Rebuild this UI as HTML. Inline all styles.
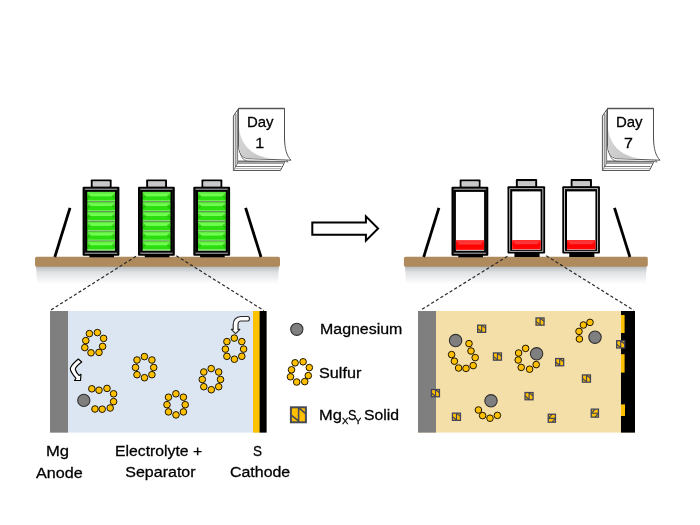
<!DOCTYPE html>
<html><head><meta charset="utf-8"><title>Mg-S battery</title>
<style>
html,body{margin:0;padding:0;background:#fff;}
body{width:700px;height:525px;overflow:hidden;position:relative;font-family:"Liberation Sans",sans-serif;}
svg{position:absolute;left:0;top:0;}
#txt{position:absolute;left:0;top:0;width:700px;height:525px;will-change:transform;}
.t{position:absolute;white-space:nowrap;font-size:16px;line-height:16px;color:#000;transform-origin:0 0;-webkit-text-stroke:0.3px #000;}
</style></head><body>
<svg width="700" height="525" viewBox="0 0 700 525">
<defs>
<linearGradient id="shad" x1="0" y1="0" x2="0" y2="1"><stop offset="0" stop-color="#b4b8bc"/><stop offset="0.35" stop-color="#dfe1e3"/><stop offset="1" stop-color="#ffffff"/></linearGradient>
<linearGradient id="gcell" x1="0" y1="0" x2="0" y2="1"><stop offset="0" stop-color="#7fd06c"/><stop offset="0.06" stop-color="#52d035"/><stop offset="0.2" stop-color="#6cfb4c"/><stop offset="0.42" stop-color="#70ff50"/><stop offset="0.49" stop-color="#2cdd10"/><stop offset="0.84" stop-color="#2cdd10"/><stop offset="0.87" stop-color="#66f04a"/><stop offset="0.9" stop-color="#66f04a"/><stop offset="0.92" stop-color="#8ed07c"/><stop offset="1" stop-color="#86cc74"/></linearGradient>
<linearGradient id="rcell" x1="0" y1="0" x2="0" y2="1"><stop offset="0" stop-color="#ff2a2a"/><stop offset="0.4" stop-color="#ff3a3a"/><stop offset="0.5" stop-color="#ff0000"/><stop offset="1" stop-color="#ff0808"/></linearGradient>
<linearGradient id="pg" x1="0" y1="0" x2="1" y2="1"><stop offset="0" stop-color="#d8d8d8"/><stop offset="1" stop-color="#c4c4c4"/></linearGradient>
<g id="sol"><rect x="1" y="1" width="15" height="15" fill="#FFC000" stroke="#474a57" stroke-width="2"/><path d="M8.7,1 V16 M1,8.6 L8.5,14.5 M9,1.5 L16,7.5" stroke="#474a57" stroke-width="1.6" fill="none"/></g>
<g id="sols"><rect x="0.65" y="0.65" width="8" height="7.2" fill="#FFC000" stroke="#41445a" stroke-width="1.3"/><path d="M4.7,0.6 V8 M0.6,4.1 L4.6,7.3 M4.8,0.9 L8.7,3.9" stroke="#41445a" stroke-width="1.15" fill="none"/></g>
<g id="gc"><rect x="0.3" y="0" width="27.7" height="9.8" fill="url(#gcell)"/><path d="M0.3,1.2 L4,4.4 L0.3,7.7 Z M28,1.2 L24.3,4.4 L28,7.7 Z" fill="#1fb005" opacity="0.6"/></g>
<g id="batt">
 <rect x="8.2" y="-7.3" width="20.8" height="9" fill="#000" rx="0.8"/>
 <rect x="10.4" y="-5" width="16.4" height="4.6" fill="#c8c8c8" stroke="#e8e8e8" stroke-width="0.6"/>
 <rect x="0" y="0" width="36.8" height="69" fill="#000" rx="1"/>
 <rect x="6.8" y="68" width="24.6" height="2.6" fill="#000"/>
 <path d="M2.2,2.5 H34.6 M2.2,66.5 H34.6" stroke="#ececec" stroke-width="0.8" fill="none"/><path d="M2.2,2.5 V66.5 M34.6,2.5 V66.5" stroke="#262626" stroke-width="0.6" fill="none"/>
</g>
<g id="battg"><use href="#batt"/>
 <use href="#gc" x="4.4" y="5.2"/><use href="#gc" x="4.4" y="15"/><use href="#gc" x="4.4" y="24.8"/><use href="#gc" x="4.4" y="34.6"/><use href="#gc" x="4.4" y="44.4"/><use href="#gc" x="4.4" y="54.2"/><rect x="4.7" y="5.2" width="27.7" height="0.9" fill="#62f242"/><rect x="4.7" y="62.8" width="27.7" height="1" fill="#90e080"/>
</g>
<g id="rin">
 <rect x="4.4" y="5.2" width="28.2" height="58.8" fill="#fff"/>
 <rect x="4.4" y="53.4" width="28.2" height="9.8" fill="url(#rcell)"/>
 <path d="M4.4,54.2 L7.6,57 L4.4,59 Z M32.6,54.2 L29.4,57 L32.6,59 Z" fill="#ff0000" opacity="0.8"/>
</g>
<g id="battr"><use href="#batt"/><use href="#rin"/></g>
<g id="battr2">
 <rect x="8.2" y="-7.5" width="20.8" height="9" fill="#000" rx="0.8"/>
 <rect x="10.4" y="-5.2" width="16.4" height="4.7" fill="#c8c8c8" stroke="#e8e8e8" stroke-width="0.6"/>
 <rect x="0" y="-0.4" width="36.8" height="67.4" fill="#000" rx="1"/>
 <rect x="6.8" y="66" width="24.6" height="4.4" fill="#000"/>
 <rect x="2.2" y="2.1" width="32.4" height="62.6" fill="none" stroke="#e4e4e4" stroke-width="0.8"/>
 <rect x="4.6" y="4.8" width="27.8" height="58.4" fill="#fff"/>
 <rect x="4.6" y="53.4" width="27.8" height="9.4" fill="url(#rcell)"/>
 <path d="M4.6,54.2 L7.8,57 L4.6,59 Z M32.4,54.2 L29.2,57 L32.4,59 Z" fill="#ff0000" opacity="0.8"/>
</g>

<g id="cal">
 <!-- stack side -->
 <path d="M238.5,108.5 L233.4,116 L233.4,170.5 L280.5,170.5 L284.5,162.5 L284.5,108.5 Z" fill="#fff" stroke="#444" stroke-width="0.9" stroke-linejoin="round"/>
 <path d="M235.3,113.5 V166.5 L281.5,166.5 M237.6,110 V163.2 L283.5,163.2 M233.4,170.5 L237.6,163.2" stroke="#555" stroke-width="0.8" fill="none"/>
 <path d="M233.6,168.6 L281,168.6" stroke="#999" stroke-width="0.8"/>
 <path d="M236.2,114 V165" stroke="#aaa" stroke-width="1"/>
 <path d="M238,161.6 L284,161.6" stroke="#777" stroke-width="2"/>
 <!-- second page -->
 <path d="M240,150 C240.5,157 243,160.5 248,161 L285,161.5 L288.2,162 C286.5,160.5 286,159.5 285.5,158 Z" fill="#fff" stroke="#555" stroke-width="0.8"/>
 <!-- top page -->
 <path d="M238.5,108.5 L284.5,108.5 L284.5,138 C284.8,149 286.5,155.5 291,160.2 L247.5,158.6 C241.5,157.6 238.5,152.5 238.5,145 Z" fill="#fff" stroke="#444" stroke-width="0.9" stroke-linejoin="round"/>
 <path d="M239,128 C241,144 250,155.5 271,158.8 L247.5,158.2 C242,157.2 239,152.5 239,145 Z" fill="url(#pg)"/>
 <path d="M238.5,108.5 L284.5,108.5" stroke="#555" stroke-width="1.3"/>
</g>
<g id="shelfgrp">
 <path d="M36,266 L279,266 L277.8,284 L37.2,284 Z" fill="url(#shad)"/>
 <rect x="35" y="256.8" width="245" height="9.9" rx="1.8" fill="#AF8A5C"/>
 <path d="M70,207.8 L54.8,257" stroke="#000" stroke-width="2.8" stroke-linecap="butt"/>
 <path d="M245.6,207.8 L261,257" stroke="#000" stroke-width="2.8"/>
</g>
<g id="shelfgrp2">
 <path d="M36,266 L277.8,266 L276.6,284 L37.2,284 Z" fill="url(#shad)"/>
 <rect x="35" y="256.8" width="243.9" height="9.9" rx="1.8" fill="#AF8A5C"/>
 <path d="M70,207.8 L54.8,257" stroke="#000" stroke-width="2.8" stroke-linecap="butt"/>
 <path d="M245.6,207.8 L261,257" stroke="#000" stroke-width="2.8"/>
</g>
</defs>

<use href="#shelfgrp"/>
<use href="#battg" x="82.6" y="186.7"/>
<use href="#battg" x="138.0" y="186.7"/>
<use href="#battg" x="193.3" y="186.7"/>
<use href="#cal"/>
<g transform="translate(368.9,0)"><use href="#shelfgrp2"/></g><g transform="translate(369,0)">
<use href="#battr" x="82.5" y="186.7"/>
<g transform="translate(138.5,186.6) scale(1.022,1)"><use href="#battr2"/></g>
<g transform="translate(193.3,186.6) scale(1.022,1)"><use href="#battr2"/></g>
<use href="#cal"/></g>
<path d="M312.3,222.4 H365.9 V216.4 L378.1,228.5 L365.9,240.6 V234.8 H312.3 Z" fill="#fff" stroke="#000" stroke-width="2" stroke-linejoin="miter"/>
<path d="M136,256.3 L50.4,310.3" stroke="#2a2a2a" stroke-width="1.2" stroke-dasharray="3.2,2.2" fill="none"/><path d="M176.3,255.8 L264,310.6" stroke="#2a2a2a" stroke-width="1.2" stroke-dasharray="3.2,2.2" fill="none"/>
<path d="M507.4,256.3 L420.4,310.3" stroke="#2a2a2a" stroke-width="1.2" stroke-dasharray="3.2,2.2" fill="none"/><path d="M546.3,255.8 L633.6,310.2" stroke="#2a2a2a" stroke-width="1.2" stroke-dasharray="3.2,2.2" fill="none"/>
<rect x="50" y="311" width="216.6" height="121.6" fill="#DCE6F2"/>
<rect x="50" y="311" width="18" height="121.6" fill="#7F7F7F"/>
<rect x="253" y="311" width="6.8" height="121.6" fill="#FFC000"/>
<rect x="259.6" y="311" width="7" height="121.6" fill="#000"/>
<circle cx="89.4" cy="333.6" r="3.3" fill="#FFC000" stroke="#1c1500" stroke-width="1"/>
<circle cx="97.4" cy="332.6" r="3.3" fill="#FFC000" stroke="#1c1500" stroke-width="1"/>
<circle cx="103.6" cy="338.4" r="3.3" fill="#FFC000" stroke="#1c1500" stroke-width="1"/>
<circle cx="102.6" cy="346.4" r="3.3" fill="#FFC000" stroke="#1c1500" stroke-width="1"/>
<circle cx="99.0" cy="352.4" r="3.3" fill="#FFC000" stroke="#1c1500" stroke-width="1"/>
<circle cx="91.0" cy="352.8" r="3.3" fill="#FFC000" stroke="#1c1500" stroke-width="1"/>
<circle cx="84.8" cy="347.6" r="3.3" fill="#FFC000" stroke="#1c1500" stroke-width="1"/>
<circle cx="85.8" cy="340.6" r="3.3" fill="#FFC000" stroke="#1c1500" stroke-width="1"/>
<circle cx="144.4" cy="356.6" r="3.3" fill="#FFC000" stroke="#1c1500" stroke-width="1"/><circle cx="151.9" cy="360.0" r="3.3" fill="#FFC000" stroke="#1c1500" stroke-width="1"/><circle cx="153.7" cy="367.5" r="3.3" fill="#FFC000" stroke="#1c1500" stroke-width="1"/><circle cx="151.9" cy="374.7" r="3.3" fill="#FFC000" stroke="#1c1500" stroke-width="1"/><circle cx="144.5" cy="377.7" r="3.3" fill="#FFC000" stroke="#1c1500" stroke-width="1"/><circle cx="137.0" cy="374.7" r="3.3" fill="#FFC000" stroke="#1c1500" stroke-width="1"/><circle cx="135.5" cy="367.5" r="3.3" fill="#FFC000" stroke="#1c1500" stroke-width="1"/><circle cx="137.0" cy="360.0" r="3.3" fill="#FFC000" stroke="#1c1500" stroke-width="1"/>
<circle cx="234.3" cy="338.1" r="3.3" fill="#FFC000" stroke="#1c1500" stroke-width="1"/><circle cx="241.8" cy="341.6" r="3.3" fill="#FFC000" stroke="#1c1500" stroke-width="1"/><circle cx="243.6" cy="349.1" r="3.3" fill="#FFC000" stroke="#1c1500" stroke-width="1"/><circle cx="241.8" cy="356.3" r="3.3" fill="#FFC000" stroke="#1c1500" stroke-width="1"/><circle cx="234.4" cy="359.2" r="3.3" fill="#FFC000" stroke="#1c1500" stroke-width="1"/><circle cx="226.9" cy="356.3" r="3.3" fill="#FFC000" stroke="#1c1500" stroke-width="1"/><circle cx="225.4" cy="349.1" r="3.3" fill="#FFC000" stroke="#1c1500" stroke-width="1"/><circle cx="226.9" cy="341.6" r="3.3" fill="#FFC000" stroke="#1c1500" stroke-width="1"/>
<circle cx="211.2" cy="368.6" r="3.3" fill="#FFC000" stroke="#1c1500" stroke-width="1"/><circle cx="218.7" cy="372.0" r="3.3" fill="#FFC000" stroke="#1c1500" stroke-width="1"/><circle cx="220.5" cy="379.5" r="3.3" fill="#FFC000" stroke="#1c1500" stroke-width="1"/><circle cx="218.7" cy="386.7" r="3.3" fill="#FFC000" stroke="#1c1500" stroke-width="1"/><circle cx="211.3" cy="389.7" r="3.3" fill="#FFC000" stroke="#1c1500" stroke-width="1"/><circle cx="203.8" cy="386.7" r="3.3" fill="#FFC000" stroke="#1c1500" stroke-width="1"/><circle cx="202.3" cy="379.5" r="3.3" fill="#FFC000" stroke="#1c1500" stroke-width="1"/><circle cx="203.8" cy="372.0" r="3.3" fill="#FFC000" stroke="#1c1500" stroke-width="1"/>
<circle cx="175.9" cy="393.8" r="3.3" fill="#FFC000" stroke="#1c1500" stroke-width="1"/><circle cx="183.4" cy="397.2" r="3.3" fill="#FFC000" stroke="#1c1500" stroke-width="1"/><circle cx="185.2" cy="404.7" r="3.3" fill="#FFC000" stroke="#1c1500" stroke-width="1"/><circle cx="183.4" cy="411.9" r="3.3" fill="#FFC000" stroke="#1c1500" stroke-width="1"/><circle cx="176.0" cy="414.9" r="3.3" fill="#FFC000" stroke="#1c1500" stroke-width="1"/><circle cx="168.5" cy="411.9" r="3.3" fill="#FFC000" stroke="#1c1500" stroke-width="1"/><circle cx="167.0" cy="404.7" r="3.3" fill="#FFC000" stroke="#1c1500" stroke-width="1"/><circle cx="168.5" cy="397.2" r="3.3" fill="#FFC000" stroke="#1c1500" stroke-width="1"/>
<circle cx="91.8" cy="388.8" r="3.3" fill="#FFC000" stroke="#1c1500" stroke-width="1"/>
<circle cx="99.0" cy="390.2" r="3.3" fill="#FFC000" stroke="#1c1500" stroke-width="1"/>
<circle cx="107.0" cy="388.4" r="3.3" fill="#FFC000" stroke="#1c1500" stroke-width="1"/>
<circle cx="113.6" cy="393.8" r="3.3" fill="#FFC000" stroke="#1c1500" stroke-width="1"/>
<circle cx="113.6" cy="401.6" r="3.3" fill="#FFC000" stroke="#1c1500" stroke-width="1"/>
<circle cx="110.2" cy="408.0" r="3.3" fill="#FFC000" stroke="#1c1500" stroke-width="1"/>
<circle cx="102.2" cy="409.2" r="3.3" fill="#FFC000" stroke="#1c1500" stroke-width="1"/>
<circle cx="95.0" cy="409.0" r="3.3" fill="#FFC000" stroke="#1c1500" stroke-width="1"/>
<circle cx="83.8" cy="400.4" r="6.1" fill="#7F7F7F" stroke="#303030" stroke-width="1.1"/>
<path d="M78.3,359 L81.7,362 Q75,367 75.3,369.5 Q76,372 79,375.5 L81,374.3 L80.5,380.5 L74.5,380.5 L76,378.3 Q70.3,372 70.3,368.5 Q71,365 78.3,359 Z" fill="#fff" stroke="#000" stroke-width="1.15" stroke-linejoin="round"/>
<path d="M247.9,316.5 L241,316.5 Q233.2,317 233.2,325 L233.2,329.4 L231.3,329.4 L235.6,333.7 L239.9,329.4 L238,329.4 L238,325 Q238,321 241,321 L247.9,321 Q249.5,321 249.5,318.8 Q249.5,316.5 247.9,316.5 Z" fill="#fff" stroke="#2a2a2a" stroke-width="1.15" stroke-linejoin="round"/>
<circle cx="296.8" cy="329.3" r="6.1" fill="#7F7F7F" stroke="#303030" stroke-width="1.1"/>
<circle cx="295.1" cy="362.8" r="3.3" fill="#FFC000" stroke="#1c1500" stroke-width="1"/>
<circle cx="303.1" cy="361.8" r="3.3" fill="#FFC000" stroke="#1c1500" stroke-width="1"/>
<circle cx="309.3" cy="367.6" r="3.3" fill="#FFC000" stroke="#1c1500" stroke-width="1"/>
<circle cx="308.3" cy="375.6" r="3.3" fill="#FFC000" stroke="#1c1500" stroke-width="1"/>
<circle cx="304.7" cy="381.6" r="3.3" fill="#FFC000" stroke="#1c1500" stroke-width="1"/>
<circle cx="296.7" cy="382.0" r="3.3" fill="#FFC000" stroke="#1c1500" stroke-width="1"/>
<circle cx="290.5" cy="376.8" r="3.3" fill="#FFC000" stroke="#1c1500" stroke-width="1"/>
<circle cx="291.5" cy="369.8" r="3.3" fill="#FFC000" stroke="#1c1500" stroke-width="1"/>
<g transform="translate(289.9,406.3)"><use href="#sol"/></g>
<rect x="418" y="311" width="217" height="121.6" fill="#F5DFA8"/>
<rect x="418" y="311" width="18" height="121.6" fill="#7F7F7F"/>
<rect x="621" y="311" width="14" height="121.6" fill="#000"/>
<rect x="621" y="315" width="3.6" height="18" fill="#FFC000"/>
<rect x="621" y="354.2" width="3.6" height="18.4" fill="#FFC000"/>
<rect x="621" y="404.4" width="4" height="11.6" fill="#FFC000"/>
<circle cx="455.6" cy="340.6" r="6.2" fill="#7F7F7F" stroke="#303030" stroke-width="1.1"/>
<circle cx="536.6" cy="353.8" r="6.2" fill="#7F7F7F" stroke="#303030" stroke-width="1.1"/>
<circle cx="491.0" cy="400.8" r="6.2" fill="#7F7F7F" stroke="#303030" stroke-width="1.1"/>
<circle cx="595.0" cy="337.2" r="6.2" fill="#7F7F7F" stroke="#303030" stroke-width="1.1"/>
<circle cx="469.0" cy="343.6" r="3.3" fill="#FFC000" stroke="#1c1500" stroke-width="1"/>
<circle cx="471.0" cy="351.0" r="3.3" fill="#FFC000" stroke="#1c1500" stroke-width="1"/>
<circle cx="475.2" cy="357.6" r="3.3" fill="#FFC000" stroke="#1c1500" stroke-width="1"/>
<circle cx="473.2" cy="365.6" r="3.3" fill="#FFC000" stroke="#1c1500" stroke-width="1"/>
<circle cx="466.0" cy="368.4" r="3.3" fill="#FFC000" stroke="#1c1500" stroke-width="1"/>
<circle cx="458.6" cy="368.0" r="3.3" fill="#FFC000" stroke="#1c1500" stroke-width="1"/>
<circle cx="454.4" cy="361.2" r="3.3" fill="#FFC000" stroke="#1c1500" stroke-width="1"/>
<circle cx="451.6" cy="354.6" r="3.3" fill="#FFC000" stroke="#1c1500" stroke-width="1"/>
<circle cx="525.6" cy="348.4" r="3.3" fill="#FFC000" stroke="#1c1500" stroke-width="1"/>
<circle cx="518.6" cy="353.0" r="3.3" fill="#FFC000" stroke="#1c1500" stroke-width="1"/>
<circle cx="518.2" cy="360.0" r="3.3" fill="#FFC000" stroke="#1c1500" stroke-width="1"/>
<circle cx="521.2" cy="367.4" r="3.3" fill="#FFC000" stroke="#1c1500" stroke-width="1"/>
<circle cx="529.6" cy="369.2" r="3.3" fill="#FFC000" stroke="#1c1500" stroke-width="1"/>
<circle cx="536.2" cy="364.6" r="3.3" fill="#FFC000" stroke="#1c1500" stroke-width="1"/>
<circle cx="478.4" cy="410.0" r="3.3" fill="#FFC000" stroke="#1c1500" stroke-width="1"/>
<circle cx="482.6" cy="415.6" r="3.3" fill="#FFC000" stroke="#1c1500" stroke-width="1"/>
<circle cx="490.0" cy="418.2" r="3.3" fill="#FFC000" stroke="#1c1500" stroke-width="1"/>
<circle cx="497.4" cy="415.4" r="3.3" fill="#FFC000" stroke="#1c1500" stroke-width="1"/>
<circle cx="590.0" cy="322.4" r="3.3" fill="#FFC000" stroke="#1c1500" stroke-width="1"/>
<circle cx="583.4" cy="325.0" r="3.3" fill="#FFC000" stroke="#1c1500" stroke-width="1"/>
<circle cx="579.0" cy="331.4" r="3.3" fill="#FFC000" stroke="#1c1500" stroke-width="1"/>
<circle cx="579.4" cy="339.0" r="3.3" fill="#FFC000" stroke="#1c1500" stroke-width="1"/>
<use href="#sols" x="477.0" y="324.5"/>
<use href="#sols" x="535.4" y="317.3"/>
<use href="#sols" x="492.8" y="352.3"/>
<use href="#sols" x="430.8" y="388.9"/>
<use href="#sols" x="524.4" y="391.9"/>
<use href="#sols" x="451.8" y="412.5"/>
<use href="#sols" x="555.0" y="357.9"/>
<use href="#sols" x="581.8" y="374.3"/>
<use href="#sols" x="616.0" y="340.1"/>
<g transform="rotate(90 552.0 418.2)"><use href="#sols" x="547.4" y="414.1"/></g>
<g transform="rotate(90 595.0 413.1)"><use href="#sols" x="590.4" y="409.0"/></g>
</svg>
<div id="txt">
<div class="t" style="left:246.7px;top:114.7px;transform:scale(0.935,0.9)">Day</div>
<div class="t" style="left:255.3px;top:135.7px;transform:scale(1.000,0.9)">1</div>
<div class="t" style="left:615.9px;top:114.6px;transform:scale(0.935,0.9)">Day</div>
<div class="t" style="left:623.9px;top:136.1px;transform:scale(1.000,0.9)">7</div>
<div class="t" style="left:320px;top:322.1px;transform:scale(0.996,0.9)">Magnesium</div>
<div class="t" style="left:318.6px;top:365.7px;transform:scale(1.012,0.9)">Sulfur</div>
<div class="t" style="left:46.4px;top:444.4px;transform:scale(1.039,0.9)">Mg</div>
<div class="t" style="left:35.6px;top:465.5px;transform:scale(1.009,0.9)">Anode</div>
<div class="t" style="left:115.0px;top:444.4px;transform:scale(0.985,0.9)">Electrolyte +</div>
<div class="t" style="left:125.3px;top:465.1px;transform:scale(1.000,0.9)">Separator</div>
<div class="t" style="left:252.8px;top:444.4px;transform:scale(0.843,0.9)">S</div>
<div class="t" style="left:229.9px;top:465.2px;transform:scale(0.995,0.9)">Cathode</div>
<div class="t" style="left:318.8px;top:408.3px;transform:scale(1.025,0.9)">Mg</div>
<div class="t" style="left:363.8px;top:408.3px;transform:scale(0.984,0.9)">Solid</div>
<div class="t" style="left:347.6px;top:408.3px;transform:scale(0.787,0.9)">S</div>
<div class="t" style="font-size:10px;line-height:10px;left:342.0px;top:415.9px;transform:scale(0.95,0.95)">X</div>
<div class="t" style="font-size:10px;line-height:10px;left:355.2px;top:415.9px;transform:scale(0.95,0.95)">Y</div>
</div>
</body></html>
